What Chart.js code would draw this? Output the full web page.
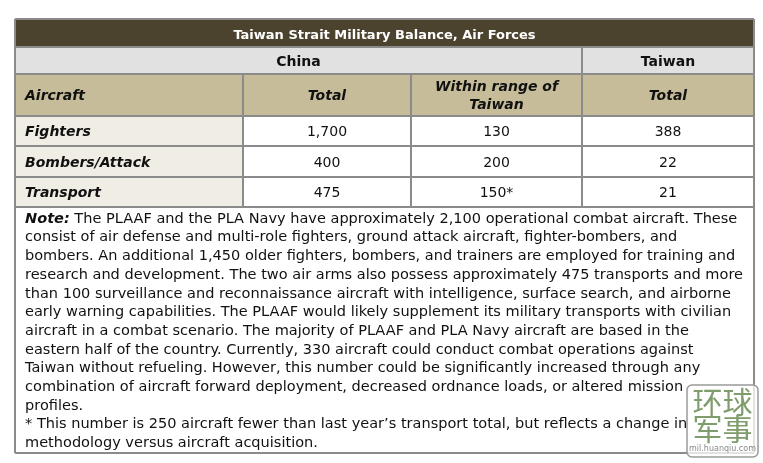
<!DOCTYPE html>
<html>
<head>
<meta charset="utf-8">
<script src="https://cdn.jsdelivr.net/npm/chart.js@4"></script>
<style>
  body { margin: 0; background: #fff; }
  #wrap { width: 763px; height: 463px; }
</style>
</head>
<body>
<div id="wrap"><canvas id="tableChart" width="763" height="463"></canvas></div>
<script>
// ---- data ----
const title = 'Taiwan Strait Military Balance, Air Forces';
const groups = ['China', 'Taiwan'];
const headers = ['Aircraft', 'Total', 'Within range of|Taiwan', 'Total'];
const categories = ['Fighters', 'Bombers/Attack', 'Transport'];
const chinaTotal = [1700, 400, 475];
const chinaInRange = [130, 200, 150];
const inRangeMarks = ['', '', '*'];
const taiwanTotal = [388, 22, 21];
const noteLead = 'Note:';
const noteLines = [
    ' The PLAAF and the PLA Navy have approximately 2,100 operational combat aircraft. These',
    'consist of air defense and multi-role fighters, ground attack aircraft, fighter-bombers, and',
    'bombers. An additional 1,450 older fighters, bombers, and trainers are employed for training and',
    'research and development. The two air arms also possess approximately 475 transports and more',
    'than 100 surveillance and reconnaissance aircraft with intelligence, surface search, and airborne',
    'early warning capabilities. The PLAAF would likely supplement its military transports with civilian',
    'aircraft in a combat scenario. The majority of PLAAF and PLA Navy aircraft are based in the',
    'eastern half of the country. Currently, 330 aircraft could conduct combat operations against',
    'Taiwan without refueling. However, this number could be significantly increased through any',
    'combination of aircraft forward deployment, decreased ordnance loads, or altered mission',
    'profiles.',
    '* This number is 250 aircraft fewer than last year\u2019s transport total, but reflects a change in',
    'methodology versus aircraft acquisition.'
];
const watermark = ['环球', '军事', 'mil.huanqiu.com'];

// ---- layout (pixel units on the hidden linear scales) ----
const colEdges = [15, 243, 411, 582, 754];
const rowEdges = [19, 47, 74, 116, 146, 177, 207, 453];
const FONT = '"DejaVu Sans", sans-serif';
const COLORS = {
    border: '#8b8b8b',
    titleBg: '#4b432d',
    groupBg: '#e1e1e1',
    headBg: '#c6bc99',
    labelBg: '#efede4',
    text: '#111'
};

const tablePlugin = {
    id: 'tablePlugin',
    afterDraw(chart) {
        const ctx = chart.ctx;
        const xs = chart.scales.x, ys = chart.scales.y;
        const X = v => xs.getPixelForValue(v);
        const Y = v => ys.getPixelForValue(v);

        function rect(x0, y0, x1, y1, color) {
            ctx.fillStyle = color;
            ctx.fillRect(X(x0), Y(y0), X(x1) - X(x0), Y(y1) - Y(y0));
        }
        function line(x0, y0, x1, y1) {
            ctx.beginPath();
            ctx.moveTo(X(x0), Y(y0));
            ctx.lineTo(X(x1), Y(y1));
            ctx.stroke();
        }
        function text(str, x, y, font, color, align) {
            ctx.font = font;
            ctx.fillStyle = color || COLORS.text;
            ctx.textAlign = align || 'center';
            ctx.textBaseline = 'middle';
            ctx.fillText(str, X(x), Y(y));
        }
        const mid = (a, b) => (a + b) / 2;

        ctx.save();
        // backgrounds
        rect(colEdges[0], rowEdges[0], colEdges[4], rowEdges[1], COLORS.titleBg);
        rect(colEdges[0], rowEdges[1], colEdges[4], rowEdges[2], COLORS.groupBg);
        rect(colEdges[0], rowEdges[2], colEdges[4], rowEdges[3], COLORS.headBg);
        rect(colEdges[0], rowEdges[3], colEdges[1], rowEdges[6], COLORS.labelBg);

        // grid lines
        ctx.strokeStyle = COLORS.border;
        ctx.lineWidth = 2;
        for (let i = 0; i < rowEdges.length; i++) {
            line(colEdges[0], rowEdges[i], colEdges[4], rowEdges[i]);
        }
        line(colEdges[0], rowEdges[0], colEdges[0], rowEdges[7]);
        line(colEdges[4], rowEdges[0], colEdges[4], rowEdges[7]);
        line(colEdges[3], rowEdges[1], colEdges[3], rowEdges[6]);
        line(colEdges[1], rowEdges[2], colEdges[1], rowEdges[6]);
        line(colEdges[2], rowEdges[2], colEdges[2], rowEdges[6]);

        // title + groups
        text(title, mid(colEdges[0], colEdges[4]), mid(rowEdges[0], rowEdges[1]) + 2.5, 'bold 13px ' + FONT, '#fff');
        text(groups[0], mid(colEdges[0], colEdges[3]), mid(rowEdges[1], rowEdges[2]) + 2, 'bold 14px ' + FONT);
        text(groups[1], mid(colEdges[3], colEdges[4]), mid(rowEdges[1], rowEdges[2]) + 2, 'bold 14px ' + FONT);

        // header row
        const hf = 'italic bold 14px ' + FONT;
        const hy = mid(rowEdges[2], rowEdges[3]) + 1.5;
        headers.forEach((h, i) => {
            const parts = h.split('|');
            const x = i === 0 ? colEdges[0] + 10 : mid(colEdges[i], colEdges[i + 1]);
            parts.forEach((p, k) => {
                const y = hy + (k - (parts.length - 1) / 2) * 18;
                text(p, x, y, hf, COLORS.text, i === 0 ? 'left' : 'center');
            });
        });

        // data rows
        const fmt = v => v.toLocaleString('en-US');
        categories.forEach((c, r) => {
            const y = mid(rowEdges[3 + r], rowEdges[4 + r]) + 1.5;
            text(c, colEdges[0] + 10, y, hf, COLORS.text, 'left');
            const vf = '14px ' + FONT;
            text(fmt(chinaTotal[r]), mid(colEdges[1], colEdges[2]), y, vf);
            text(fmt(chinaInRange[r]) + inRangeMarks[r], mid(colEdges[2], colEdges[3]), y, vf);
            text(fmt(taiwanTotal[r]), mid(colEdges[3], colEdges[4]), y, vf);
        });

        // note text, horizontally fitted to the reference line length
        const nf = '14.5px ' + FONT;
        const nbf = 'italic bold 14.5px ' + FONT;
        ctx.font = nbf;
        const leadW = ctx.measureText(noteLead).width;
        ctx.font = nf;
        let maxW = 0;
        noteLines.forEach((s, i) => {
            const w = ctx.measureText(s).width + (i === 0 ? leadW : 0);
            if (w > maxW) maxW = w;
        });
        const sx = 718 / maxW;
        const nx = X(colEdges[0] + 10);
        noteLines.forEach((s, i) => {
            const y = Y(219 + i * 18.7);
            ctx.save();
            ctx.translate(nx, y);
            ctx.scale(sx, 1);
            ctx.textBaseline = 'middle';
            ctx.textAlign = 'left';
            ctx.fillStyle = COLORS.text;
            let off = 0;
            if (i === 0) {
                ctx.font = nbf;
                ctx.fillText(noteLead, 0, 0);
                off = leadW;
            }
            ctx.font = nf;
            ctx.fillText(s, off, 0);
            ctx.restore();
        });

        // watermark
        const wx = X(687), wy = Y(385), ww = 71, wh = 72;
        ctx.fillStyle = 'rgba(255,255,255,0.75)';
        ctx.strokeStyle = '#9a9a9a';
        ctx.lineWidth = 1.5;
        ctx.beginPath();
        ctx.roundRect(wx, wy, ww, wh, 5);
        ctx.fill();
        ctx.stroke();
        ctx.fillStyle = '#7f9c6c';
        ctx.font = '30px "Noto Sans CJK SC"';
        ctx.textAlign = 'center';
        ctx.textBaseline = 'middle';
        ctx.fillText(watermark[0], wx + ww / 2, wy + 17);
        ctx.fillText(watermark[1], wx + ww / 2, wy + 44);
        ctx.fillStyle = '#8a8a8a';
        ctx.font = '8px "DejaVu Sans"';
        ctx.fillText(watermark[2], wx + ww / 2, wy + 64);
        ctx.restore();
    }
};

new Chart(document.getElementById('tableChart'), {
    type: 'scatter',
    data: { datasets: [] },
    options: {
        responsive: false,
        animation: false,
        layout: { padding: 0 },
        plugins: { legend: { display: false }, tooltip: { enabled: false } },
        scales: {
            x: { type: 'linear', min: 0, max: 763, display: false },
            y: { type: 'linear', min: 0, max: 463, reverse: true, display: false }
        }
    },
    plugins: [tablePlugin]
});
</script>
</body>
</html>
